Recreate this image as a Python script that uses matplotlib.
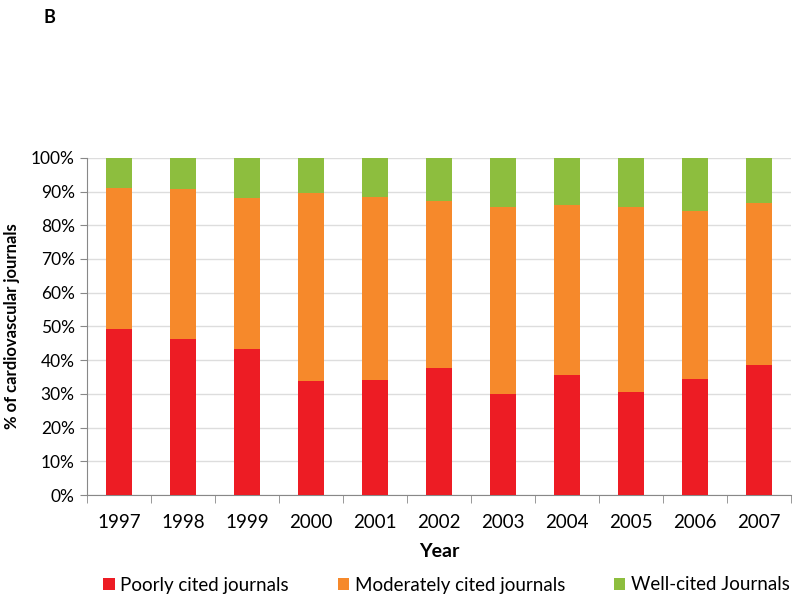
import matplotlib
matplotlib.use("Agg")
import matplotlib.pyplot as plt
import numpy as np

years = ["1997", "1998", "1999", "2000", "2001", "2002", "2003", "2004", "2005", "2006", "2007"]
poorly = [49.3, 46.4, 43.2, 33.7, 34.0, 37.6, 30.0, 35.5, 30.4, 34.3, 38.7]
poor_plus_mod = [91.1, 90.6, 88.2, 89.7, 88.4, 87.2, 85.4, 85.9, 85.5, 84.2, 86.5]
moderately = [round(a - b, 1) for a, b in zip(poor_plus_mod, poorly)]
well = [round(100 - a, 1) for a in poor_plus_mod]
series_names = ["Poorly cited journals", "Moderately cited journals", "Well-cited Journals"]
colors = ["#ED1C24", "#F6892B", "#8DBE3E"]

plt.rcParams['font.family'] = ['Lato', 'DejaVu Sans']

fig = plt.figure(figsize=(8, 6), dpi=100)
ax = fig.add_axes([0.109, 0.175, 0.88, 0.562])

x = np.arange(len(years))
w = 0.40
b1 = ax.bar(x, poorly, w, color=colors[0], label=series_names[0], zorder=3)
b2 = ax.bar(x, moderately, w, bottom=poorly, color=colors[1], label=series_names[1], zorder=3)
b3 = ax.bar(x, well, w, bottom=poor_plus_mod, color=colors[2], label=series_names[2], zorder=3)

ax.set_xlim(-0.5, len(years) - 0.5)
ax.set_ylim(0, 100)
ax.set_yticks(np.arange(0, 101, 10))
ax.set_yticklabels([f"{v}%" for v in range(0, 101, 10)], fontsize=12.5)
ax.yaxis.grid(True, color="#DDDDDD", linewidth=1, zorder=0)
ax.set_axisbelow(True)

ax.set_xticks(x)
ax.set_xticklabels(years, fontsize=13.5)
ax.set_xticks(np.arange(-0.5, len(years), 1), minor=True)
ax.tick_params(axis='x', which='major', length=0, pad=14)
ax.tick_params(axis='x', which='minor', length=6, color="#888888")
ax.tick_params(axis='y', length=5, color="#888888", pad=4)

for s in ["top", "right"]:
    ax.spines[s].set_visible(False)
for s in ["left", "bottom"]:
    ax.spines[s].set_color("#888888")

ax.set_xlabel("Year", fontsize=14, fontweight="bold", labelpad=8)
ax.set_ylabel("% of cardiovascular journals", fontsize=12, fontweight="bold", labelpad=8)

fig.legend(handles=[b1, b2, b3], labels=series_names, loc="center", bbox_to_anchor=(0.558, 0.025),
           ncol=3, frameon=False, fontsize=13.5, handlelength=0.6, handleheight=0.6,
           handletextpad=0.3, columnspacing=2.6)

fig.text(0.054, 0.985, "B", fontsize=13, fontweight="bold", va="top")

fig.savefig("out.png", dpi=100)
